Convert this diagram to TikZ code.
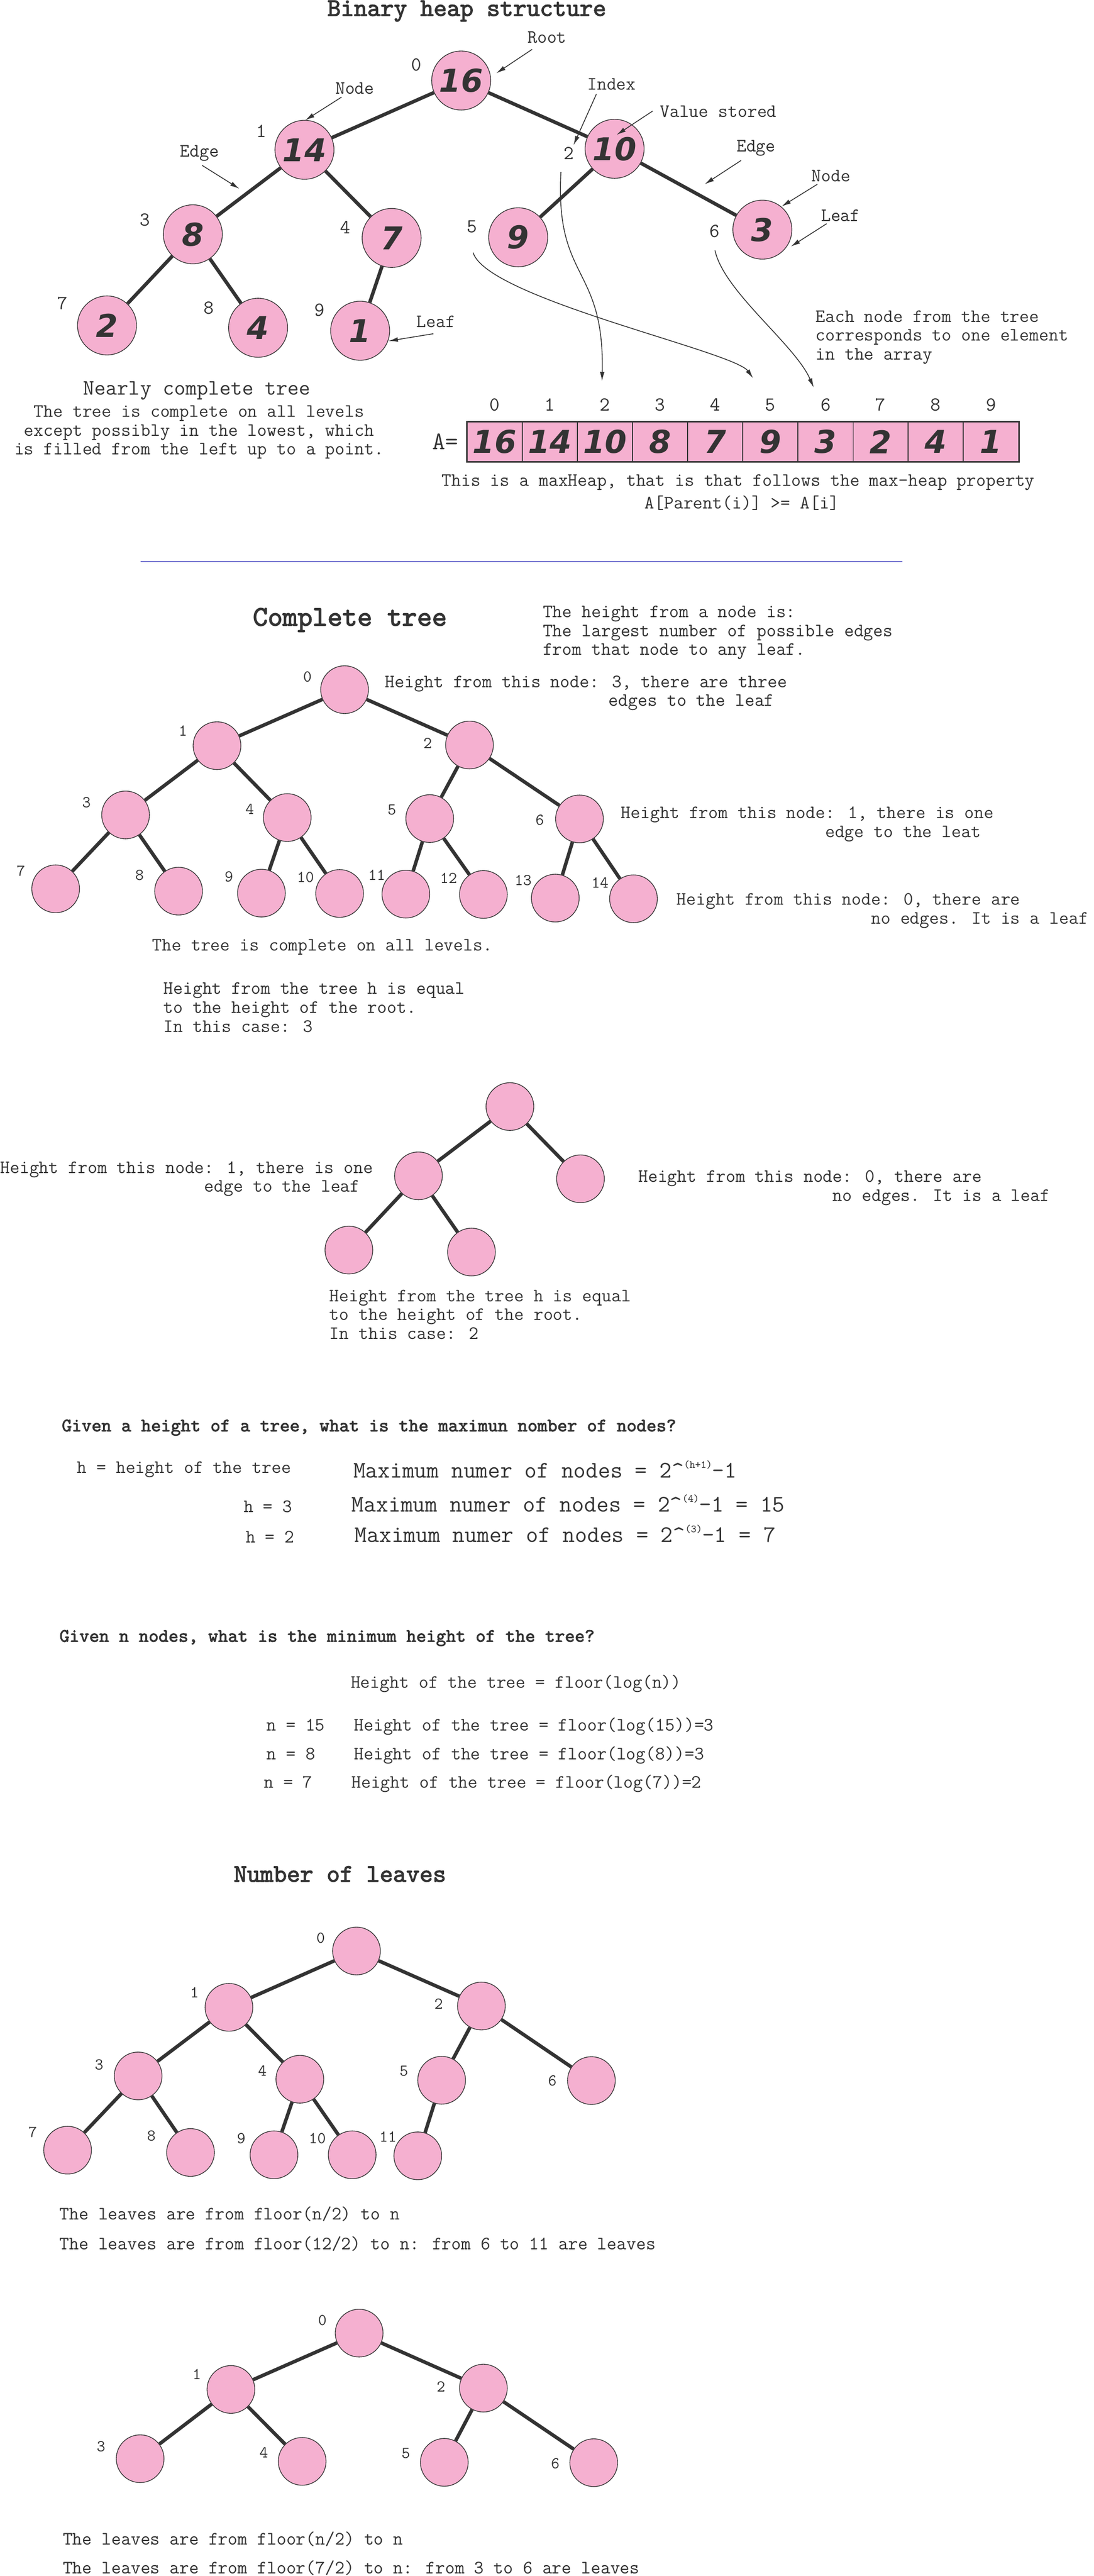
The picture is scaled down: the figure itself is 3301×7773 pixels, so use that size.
\documentclass[tikz,border=0pt]{standalone}
\usepackage{fontspec}
\newfontfamily\handfont{DejaVu Sans}
\newfontfamily\headtt{lmmono10-regular.otf}[FakeBold=2.5]
\usepackage{tikz}
\usetikzlibrary{positioning}
\usetikzlibrary{arrows.meta}

\definecolor{heappink}{RGB}{245,176,208}
\definecolor{inkgray}{RGB}{51,51,51}
\definecolor{rulecol}{RGB}{102,102,204}
\newcommand{\pad}[1]{\hspace*{#1\fontcharwd\font`\x}}
\newcommand{\sups}[1]{\raisebox{8.5pt}{\fontsize{9.2}{9.2}\selectfont #1}}

\begin{document}
\begin{tikzpicture}[x=0.01cm, y=-0.01cm,
	every node/.style={inner sep=0pt, text=inkgray},
	txt/.style={font=\ttfamily\fontsize{16.2}{16.2}\selectfont, align=left, anchor=base west},
	ctxt/.style={font=\ttfamily\fontsize{16.2}{16.1}\selectfont, align=center, anchor=base},
	tag/.style={font=\ttfamily\fontsize{16.2}{16.2}\selectfont},
	heading/.style={font=\headtt\fontsize{21.7}{24}\selectfont, anchor=base},
	question/.style={font=\headtt\fontsize{16.2}{16.2}\selectfont, anchor=base west},
	maxtxt/.style={font=\ttfamily\fontsize{20.4}{22}\selectfont, anchor=base west},
	valnode/.style={circle, draw=inkgray, line width=0.6pt, fill=heappink, minimum size=1.78cm,
		font=\handfont\bfseries\itshape\fontsize{27}{30}\selectfont},
	vertex/.style={circle, draw=inkgray, line width=0.6pt, fill=heappink, minimum size=1.44cm},
	cell/.style={rectangle, draw=inkgray, line width=0.6pt, fill=heappink, minimum width=1.664cm,
		minimum height=1.18cm, font=\handfont\bfseries\itshape\fontsize{27}{30}\selectfont},
	idx/.style={font=\ttfamily\fontsize{14.2}{16}\selectfont},
	bigidx/.style={font=\ttfamily\fontsize{17}{19}\selectfont},
	link/.style={draw=inkgray, line width=3pt},
	pointer/.style={draw=inkgray, line width=0.7pt, -{Latex[length=8pt,width=4pt]}}]
	\useasboundingbox (0,0) rectangle (3301,7773);

	% binary heap structure
	\node[heading] (title1) at (1409,48) {Binary heap structure};
	\node[valnode] (v16) at (1392,243) {16};
	\node[valnode] (v14) at (919,452) {14};
	\node[valnode] (v10) at (1855,449) {10};
	\node[valnode] (v8) at (582,707) {8};
	\node[valnode] (v7) at (1182,718) {7};
	\node[valnode] (v9) at (1564,716) {9};
	\node[valnode] (v3) at (2301,693) {3};
	\node[valnode] (v2) at (323,982) {2};
	\node[valnode] (v4) at (779,989) {4};
	\node[valnode] (v1) at (1087,998) {1};
	\draw[link] (v16) -- (v14);
	\draw[link] (v16) -- (v10);
	\draw[link] (v14) -- coordinate[pos=0.5] (mid148) (v8);
	\draw[link] (v14) -- (v7);
	\draw[link] (v10) -- (v9);
	\draw[link] (v10) -- coordinate[pos=0.5] (mid103) (v3);
	\draw[link] (v8) -- (v2);
	\draw[link] (v8) -- (v4);
	\draw[link] (v7) -- (v1);
	\node[bigidx] (t0) at (1257,196) {0};
	\node[bigidx] (t1) at (789,395) {1};
	\node[bigidx] (t2) at (1717,463) {2};
	\node[bigidx] (t3) at (437,663) {3};
	\node[bigidx] (t4) at (1042,687) {4};
	\node[bigidx] (t5) at (1424,684) {5};
	\node[bigidx] (t6) at (2157,698) {6};
	\node[bigidx] (t7) at (189,915) {7};
	\node[bigidx] (t8) at (631,930) {8};
	\node[bigidx] (t9) at (965,936) {9};
	% notes on the tree
	\node[tag] (lroot) at (1651,113) {Root};
	\node[tag] (lnodeA) at (1071,267) {Node};
	\node[tag] (ledgeA) at (602,462) {Edge};
	\node[tag] (lleafA) at (1316,970) {Leaf};
	\node[tag] (lindex) at (1846,254) {Index};
	\node[tag] (lvalue) at (2168,337) {Value stored};
	\node[tag] (ledgeB) at (2282,447) {Edge};
	\node[tag] (lnodeB) at (2508,530) {Node};
	\node[tag] (lleafB) at (2537,650) {Leaf};
	\draw[pointer] ([shift={(-45,36)}]lroot.center) -- ([shift={(106,-22)}]v16.center);
	\draw[pointer] ([shift={(-40,26)}]lnodeA.center) -- ([shift={(2,-89)}]v14.center);
	\draw[pointer] ([shift={(8,37)}]ledgeA.center) -- ([shift={(-28,-10)}]mid148);
	\draw[pointer] ([shift={(-8,37)}]lleafA.center) -- ([shift={(86,31)}]v1.center);
	\draw[pointer] ([shift={(-46,30)}]lindex.center) -- ([shift={(14,-25)}]t2.center);
	\draw[pointer] ([shift={(-198,-2)}]lvalue.center) -- ([shift={(6,-42)}]v10.center);
	\draw[pointer] ([shift={(-45,37)}]ledgeB.center) -- ([shift={(49,-15)}]mid103);
	\draw[pointer] ([shift={(-41,26)}]lnodeB.center) -- ([shift={(58,-70)}]v3.center);
	\draw[pointer] ([shift={(-42,25)}]lleafB.center) -- ([shift={(86,51)}]v3.center);
	\node[font=\ttfamily\fontsize{18.9}{20}\selectfont, anchor=base] (nearly) at (594,1192) {Nearly complete tree};
	\node[ctxt] (nearlytxt) at (601,1372) {The tree is complete on all levels\\except possibly in the lowest, which\\is filled from the left up to a point.};
	\node[txt] (eachnode) at (2461,1086) {Each node from the tree\\corresponds to one element\\in the array};

	% the array
	\node[cell] (a0) at (1493,1333) {16};
	\node[cell] (a1) at (1660,1333) {14};
	\node[cell] (a2) at (1826,1333) {10};
	\node[cell] (a3) at (1992,1333) {8};
	\node[cell] (a4) at (2159,1333) {7};
	\node[cell] (a5) at (2325,1333) {9};
	\node[cell] (a6) at (2492,1333) {3};
	\node[cell] (a7) at (2658,1333) {2};
	\node[cell] (a8) at (2824,1333) {4};
	\node[cell] (a9) at (2991,1333) {1};
	\draw[inkgray, line width=1.4pt] (a0.north west) rectangle (a9.south east);
	\node[font=\ttfamily\fontsize{21.7}{23}\selectfont, left=2.5mm of a0] (aeq) {A=};
	\node[bigidx, above=3.2mm of a0] (ai0) {0};
	\node[bigidx, above=3.2mm of a1] (ai1) {1};
	\node[bigidx, above=3.2mm of a2] (ai2) {2};
	\node[bigidx, above=3.2mm of a3] (ai3) {3};
	\node[bigidx, above=3.2mm of a4] (ai4) {4};
	\node[bigidx, above=3.2mm of a5] (ai5) {5};
	\node[bigidx, above=3.2mm of a6] (ai6) {6};
	\node[bigidx, above=3.2mm of a7] (ai7) {7};
	\node[bigidx, above=3.2mm of a8] (ai8) {8};
	\node[bigidx, above=3.2mm of a9] (ai9) {9};
	\draw[pointer] ([shift={(-24,37)}]t2.south) .. controls (1675,850) and (1825,800) .. ([shift={(-9,-52)}]ai2.north);
	\draw[pointer] ([shift={(4,59)}]t5.south) .. controls (1470,900) and (2215,1060) .. ([shift={(-52,-61)}]ai5.north);
	\draw[pointer] ([shift={(1,38)}]t6.south) .. controls (2185,880) and (2400,1040) .. ([shift={(-36,-32)}]ai6.north);
	\node[ctxt] (maxheap) at (2228,1467) {This is a maxHeap, that is that follows the max-heap property};
	\node[ctxt] (heapprop) at (2239,1535) {A[Parent(i)] >= A[i]};
	\draw[rulecol, line width=0.9pt] (424,1695) -- (2723,1695);

	% complete tree
	\node[heading, font=\headtt\fontsize{24.4}{26}\selectfont] (title2) at (1056,1888) {Complete tree};
	\node[txt] (heightdef) at (1638,1977) {The height from a node is:\\The largest number of possible edges\\from that node to any leaf.};
	\node[vertex] (c0) at (1040,2081) {};
	\node[vertex] (c1) at (655,2250) {};
	\node[vertex] (c2) at (1417,2248) {};
	\node[vertex] (c3) at (379,2459) {};
	\node[vertex] (c4) at (867,2467) {};
	\node[vertex] (c5) at (1297,2470) {};
	\node[vertex] (c6) at (1749,2471) {};
	\node[vertex] (c7) at (168,2682) {};
	\node[vertex] (c8) at (539,2689) {};
	\node[vertex] (c9) at (789,2695) {};
	\node[vertex] (c10) at (1025,2696) {};
	\node[vertex] (c11) at (1225,2698) {};
	\node[vertex] (c12) at (1459,2699) {};
	\node[vertex] (c13) at (1676,2710) {};
	\node[vertex] (c14) at (1912,2712) {};
	\draw[link] (c0) -- (c1);
	\draw[link] (c0) -- (c2);
	\draw[link] (c1) -- (c3);
	\draw[link] (c1) -- (c4);
	\draw[link] (c2) -- (c5);
	\draw[link] (c2) -- (c6);
	\draw[link] (c3) -- (c7);
	\draw[link] (c3) -- (c8);
	\draw[link] (c4) -- (c9);
	\draw[link] (c4) -- (c10);
	\draw[link] (c5) -- (c11);
	\draw[link] (c5) -- (c12);
	\draw[link] (c6) -- (c13);
	\draw[link] (c6) -- (c14);
	\node[idx] (ci0) at (928,2043) {0};
	\node[idx] (ci1) at (552,2205) {1};
	\node[idx] (ci2) at (1291,2243) {2};
	\node[idx] (ci3) at (261,2422) {3};
	\node[idx] (ci4) at (754,2442) {4};
	\node[idx] (ci5) at (1183,2444) {5};
	\node[idx] (ci6) at (1629,2474) {6};
	\node[idx] (ci7) at (63,2628) {7};
	\node[idx] (ci8) at (421,2640) {8};
	\node[idx] (ci9) at (691,2645) {9};
	\node[idx] (ci10) at (922,2647) {10};
	\node[idx] (ci11) at (1137,2640) {11};
	\node[idx] (ci12) at (1354,2650) {12};
	\node[idx] (ci13) at (1579,2656) {13};
	\node[idx] (ci14) at (1811,2664) {14};
	\node[txt] (hc0) at (1162,2131) {Height from this node: 3, there are three\\\pad{23}edges to the leaf};
	\node[txt] (hc6) at (1874,2527) {Height from this node: 1, there is one\\\pad{21}edge to the leat};
	\node[txt] (hc14) at (2042,2788) {Height from this node: 0, there are\\\pad{20}no edges. It is a leaf};
	\node[txt] (complete) at (459,2869) {The tree is complete on all levels.};
	\node[txt] (treeh3) at (493,3114) {Height from the tree h is equal\\to the height of the root.\\In this case: 3};

	% tree of height 2
	\node[vertex] (h0) at (1539,3339) {};
	\node[vertex] (h1) at (1263,3548) {};
	\node[vertex] (h2) at (1752,3557) {};
	\node[vertex] (h3) at (1053,3772) {};
	\node[vertex] (h4) at (1423,3778) {};
	\draw[link] (h0) -- (h1);
	\draw[link] (h0) -- (h2);
	\draw[link] (h1) -- (h3);
	\draw[link] (h1) -- (h4);
	\node[txt] (hh1) at (0,3597) {Height from this node: 1, there is one\\\pad{21}edge to the leaf};
	\node[txt] (hh2) at (1926,3624) {Height from this node: 0, there are\\\pad{20}no edges. It is a leaf};
	\node[txt] (treeh2) at (994,4041) {Height from the tree h is equal\\to the height of the root.\\In this case: 2};

	% maximum number of nodes
	\node[question] (q1) at (186,4319) {Given a height of a tree, what is the maximun nomber of nodes?};
	\node[txt] (hdef) at (232,4446) {h = height of the tree};
	\node[maxtxt] (maxgen) at (1066,4460) {Maximum numer of nodes = 2\textasciicircum\sups{(h+1)}-1};
	\node[txt] (hthree) at (735,4564) {h = 3};
	\node[maxtxt] (maxthree) at (1061,4562) {Maximum numer of nodes = 2\textasciicircum\sups{(4)}-1 = 15};
	\node[txt] (htwo) at (741,4655) {h = 2};
	\node[maxtxt] (maxtwo) at (1070,4654) {Maximum numer of nodes = 2\textasciicircum\sups{(3)}-1 = 7};

	% minimum height
	\node[question] (q2) at (179,4954) {Given n nodes, what is the minimum height of the tree?};
	\node[txt] (floorgen) at (1058,5094) {Height of the tree = floor(log(n))};
	\node[txt] (nfifteen) at (804,5223) {n = 15\pad{3}Height of the tree = floor(log(15))=3};
	\node[txt] (neight) at (804,5309) {n = 8\pad{4}Height of the tree = floor(log(8))=3};
	\node[txt] (nseven) at (796,5395) {n = 7\pad{4}Height of the tree = floor(log(7))=2};

	% number of leaves, 12 nodes
	\node[heading] (title3) at (1026,5678) {Number of leaves};
	\node[vertex] (l0) at (1076,5887) {};
	\node[vertex] (l1) at (691,6057) {};
	\node[vertex] (l2) at (1453,6053) {};
	\node[vertex] (l3) at (417,6264) {};
	\node[vertex] (l4) at (905,6274) {};
	\node[vertex] (l5) at (1333,6277) {};
	\node[vertex] (l6) at (1785,6278) {};
	\node[vertex] (l7) at (204,6488) {};
	\node[vertex] (l8) at (575,6495) {};
	\node[vertex] (l9) at (827,6502) {};
	\node[vertex] (l10) at (1063,6502) {};
	\node[vertex] (l11) at (1261,6505) {};
	\draw[link] (l0) -- (l1);
	\draw[link] (l0) -- (l2);
	\draw[link] (l1) -- (l3);
	\draw[link] (l1) -- (l4);
	\draw[link] (l2) -- (l5);
	\draw[link] (l2) -- (l6);
	\draw[link] (l3) -- (l7);
	\draw[link] (l3) -- (l8);
	\draw[link] (l4) -- (l9);
	\draw[link] (l4) -- (l10);
	\draw[link] (l5) -- (l11);
	\node[idx] (li0) at (968,5848) {0};
	\node[idx] (li1) at (587,6012) {1};
	\node[idx] (li2) at (1324,6047) {2};
	\node[idx] (li3) at (299,6230) {3};
	\node[idx] (li4) at (792,6249) {4};
	\node[idx] (li5) at (1219,6250) {5};
	\node[idx] (li6) at (1667,6279) {6};
	\node[idx] (li7) at (99,6434) {7};
	\node[idx] (li8) at (457,6445) {8};
	\node[idx] (li9) at (728,6452) {9};
	\node[idx] (li10) at (958,6453) {10};
	\node[idx] (li11) at (1171,6447) {11};
	\node[txt] (leafrule1) at (179,6698) {The leaves are from floor(n/2) to n};
	\node[txt] (leafcase1) at (179,6788) {The leaves are from floor(12/2) to n: from 6 to 11 are leaves};

	% number of leaves, 7 nodes
	\node[vertex] (m0) at (1084,7040) {};
	\node[vertex] (m1) at (697,7210) {};
	\node[vertex] (m2) at (1459,7206) {};
	\node[vertex] (m3) at (423,7419) {};
	\node[vertex] (m4) at (912,7427) {};
	\node[vertex] (m5) at (1341,7430) {};
	\node[vertex] (m6) at (1792,7431) {};
	\draw[link] (m0) -- (m1);
	\draw[link] (m0) -- (m2);
	\draw[link] (m1) -- (m3);
	\draw[link] (m1) -- (m4);
	\draw[link] (m2) -- (m5);
	\draw[link] (m2) -- (m6);
	\node[idx] (mi0) at (973,7001) {0};
	\node[idx] (mi1) at (594,7164) {1};
	\node[idx] (mi2) at (1331,7202) {2};
	\node[idx] (mi3) at (305,7382) {3};
	\node[idx] (mi4) at (796,7401) {4};
	\node[idx] (mi5) at (1225,7403) {5};
	\node[idx] (mi6) at (1676,7434) {6};
	\node[txt] (leafrule2) at (189,7679) {The leaves are from floor(n/2) to n};
	\node[txt] (leafcase2) at (189,7766) {The leaves are from floor(7/2) to n: from 3 to 6 are leaves};
\end{tikzpicture}
\end{document}
